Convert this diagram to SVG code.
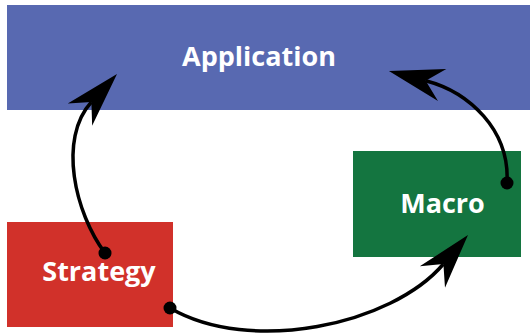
<svg xmlns="http://www.w3.org/2000/svg" width="530" height="333" viewBox="0 0 530 333">
<style>
.lbl{font-family:"Open Sans","Liberation Sans",sans-serif;font-weight:700;font-size:27px;fill:#fff;text-anchor:middle}
.con{fill:none;stroke:#000;stroke-width:3.5;marker-end:url(#ah)}
.dot{fill:#000}
</style>
<defs>
<marker id="ah" markerUnits="userSpaceOnUse" orient="auto" refX="0" refY="0" markerWidth="120" markerHeight="120" viewBox="-60 -60 120 120" overflow="visible">
<path d="M38,0 L-17,-16.5 L0,0 L-17,16.5 Z" fill="#000"/>
</marker>
</defs>
<g id="application">
<rect x="7" y="5" width="530" height="105" fill="#5869B1"/>
<text class="lbl" x="259" y="66">Application</text>
</g>
<g id="strategy">
<rect x="7" y="222" width="166" height="105" fill="#D1312A"/>
<text class="lbl" x="99" y="281">Strategy</text>
</g>
<g id="macro">
<rect x="353" y="151" width="168" height="106" fill="#147540"/>
<text class="lbl" x="442.5" y="213">Macro</text>
</g>
<g id="connectors">
<path class="con" d="M105,253 C75,213 57.7,139 91.4,102"/>
<circle class="dot" cx="105" cy="253" r="6.5"/>
<path class="con" d="M507,183 C510,130 469,92 425.7,80.7"/>
<circle class="dot" cx="507" cy="183" r="6.5"/>
<path class="con" d="M170,308 C250,355 391.7,325 443.4,264"/>
<circle class="dot" cx="170" cy="308" r="6.5"/>
</g>
</svg>
